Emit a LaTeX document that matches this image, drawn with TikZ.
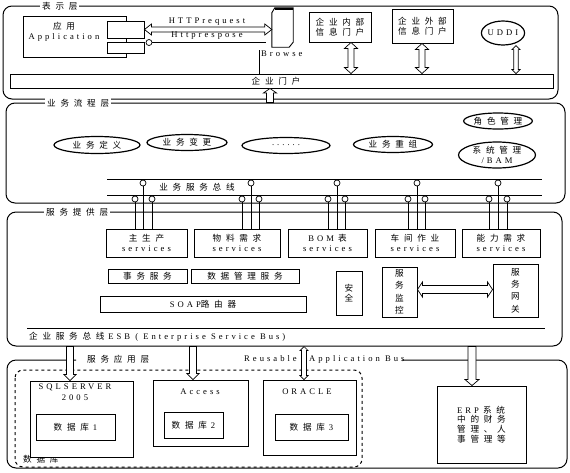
\documentclass[tikz,border=0pt]{standalone}
\usepackage{fontspec}
\setmainfont{Liberation Serif}
\newfontfamily\zh[LetterSpace=55]{Noto Sans CJK SC}
\newfontfamily\zhn{Noto Sans CJK SC}
\newfontfamily\en[LetterSpace=35]{Liberation Serif}
\usetikzlibrary{calc,shapes.geometric}
\tikzset{
 every node/.style={align=center, inner sep=1pt, font=\zh\fontsize{8.6}{10.5}\selectfont},
 box/.style={draw, line width=0.9pt, fill=white, inner sep=0pt},
 layer/.style={draw, line width=1pt, rounded corners=9pt, inner sep=0pt},
 lab/.style={fill=white, inner sep=2pt, anchor=west},
 ell/.style={draw, ellipse, line width=1.2pt, inner sep=0pt},
 lol/.style={draw, circle, minimum size=6pt, inner sep=0pt, fill=white, line width=0.7pt},
 harrow/.style={draw, fill=white, line width=0.7pt, line join=miter},
 vtext/.style={font=\zhn\fontsize{8.6}{12.4}\selectfont},
}
\newcommand\gapk{\kern4pt}
\newcommand\bx[6]{\node[box, minimum width={(#4-#2)*1pt}, minimum height={(#5-#3)*1pt}] (#1) at ({(#2+#4)/2},{(#3+#5)/2}) {#6};}
% vertical double arrow: #1 upper point, #2 lower point, #3 shaft half, #4 head half, #5 head length
\newcommand\vdouble[5]{\path[harrow] let \p1=(#1), \p2=(#2) in (\x1,\y1) -- (\x1+#4,\y1-#5) -- (\x1+#3,\y1-#5) -- (\x1+#3,\y2+#5) -- (\x1+#4,\y2+#5) -- (\x1,\y2) -- (\x1-#4,\y2+#5) -- (\x1-#3,\y2+#5) -- (\x1-#3,\y1-#5) -- (\x1-#4,\y1-#5) -- cycle;}
\newcommand\vdown[5]{\path[harrow] let \p1=(#1), \p2=(#2) in (\x1-#3,\y1) -- (\x1+#3,\y1) -- (\x1+#3,\y2+#5) -- (\x1+#4,\y2+#5) -- (\x1,\y2) -- (\x1-#4,\y2+#5) -- (\x1-#3,\y2+#5) -- cycle;}
\newcommand\vup[5]{\path[harrow] let \p1=(#1), \p2=(#2) in (\x1,\y1) -- (\x1+#4,\y1-#5) -- (\x1+#3,\y1-#5) -- (\x1+#3,\y2) -- (\x1-#3,\y2) -- (\x1-#3,\y1-#5) -- (\x1-#4,\y1-#5) -- cycle;}
% horizontal double arrow: #1 left point, #2 right point
\newcommand\hdouble[5]{\path[harrow] let \p1=(#1), \p2=(#2) in (\x1,\y1) -- (\x1+#5,\y1+#4) -- (\x1+#5,\y1+#3) -- (\x2-#5,\y1+#3) -- (\x2-#5,\y1+#4) -- (\x2,\y1) -- (\x2-#5,\y1-#4) -- (\x2-#5,\y1-#3) -- (\x1+#5,\y1-#3) -- (\x1+#5,\y1-#4) -- cycle;}
\begin{document}
\begin{tikzpicture}[x=1pt,y=-1pt]
\useasboundingbox (0,0) rectangle (570,472);
% ---------- layer 1
\node[layer, minimum width=555pt, minimum height=93pt] (L1) at (280.5,52.5) {};
\node[lab] (t1) at (40,6) {表示层};
\bx{app}{23}{16}{126}{57}{}
\node (apptext) at (64,32) {应用\\{\en Application}};
\bx{comp1}{107}{21}{144}{38}{}
\bx{comp2}{107}{42}{144}{53}{}
\node[lol] (lp) at (149,42.5) {};
\coordinate (lpend) at (266,42.5);
\draw[line width=0.8pt] (lp) -- (lpend);
\node[minimum width=21pt, minimum height=39pt, inner sep=0pt] (browse) at (282.5,27.5) {};
\draw[line width=0.9pt] ($(browse.north west)+(0,5)$) -- ($(browse.north west)+(3,0)$) -- (browse.north east) -- ($(browse.south east)+(0,-5)$) -- ($(browse.south east)+(-4,0)$) -- (browse.south west) -- cycle;
\draw[line width=2pt] ($(browse.north west)+(3,1)$) -- ($(browse.north east)+(0,1)$);
\bx{portal}{10}{74}{553}{88}{}
\node (portaltext) at (276,81) {企业门户};
\coordinate (bv) at (259,50);
\draw[line width=0.8pt] (bv) -- (bv |- portal.north);
\node[anchor=west] (browsetext) at (260,54) {\en Browse};
\hdouble{comp1.east}{browse.west |- comp1.east}{2.5pt}{5.5pt}{7pt}
\node (req) at (207,21.5) {\en HTTPrequest};
\node (resp) at (207,35.5) {\en Httprespose};
\bx{inner}{309}{12}{371}{42}{企业内部\\信息门户}
\bx{outer}{392}{9}{453}{43}{企业外部\\信息门户}
\node[ell, minimum width=40pt, minimum height=24pt] (uddi) at (503,33) {\en UDDI};
\coordinate (xa) at (351,0);
\coordinate (xb) at (422,0);
\coordinate (xc) at (516,0);
\vdouble{inner.south -| xa}{portal.north -| xa}{3pt}{6.5pt}{6pt}
\vdouble{outer.south -| xb}{portal.north -| xb}{3pt}{6.5pt}{6pt}
\vdouble{uddi.south -| xc}{portal.north -| xc}{2.2pt}{4pt}{4pt}
% ---------- layer 2
\node[layer, minimum width=559pt, minimum height=100pt] (L2) at (285.5,153) {};
\node[lab] (t2) at (45,103) {业务流程层};
\coordinate (xu) at (270,0);
\vup{portal.south -| xu}{L2.north -| xu}{3.5pt}{6.5pt}{4.5pt}
\node[ell, minimum width=86pt, minimum height=17pt] (e1) at (97,145) {业务定义};
\node[ell, minimum width=80pt, minimum height=16pt] (e2) at (187,142.5) {业务变更};
\node[ell, minimum width=88pt, minimum height=16pt] (e3) at (286,145.5) {\en ......};
\node[ell, minimum width=79pt, minimum height=16pt] (e4) at (393,144.5) {业务重组};
\node[ell, minimum width=66pt, minimum height=16pt] (e5) at (498,121) {角色管理};
\node[ell, minimum width=77pt, minimum height=26pt] (e6) at (497,155) {系统管理\\[-1pt]{\en /BAM}};
\coordinate (busA1) at (107,179);
\coordinate (busA2) at (542,179);
\coordinate (busB1) at (107,195);
\coordinate (busB2) at (542,195);
\draw[line width=0.8pt] (busA1) -- (busA2);
\draw[line width=0.8pt] (busB1) -- (busB2);
\node (bustext) at (197,187) {业务服务总线};
% ---------- layer 3
\node[layer, minimum width=555pt, minimum height=134pt] (L3) at (284.5,279) {};
\node[lab] (t3) at (44,212) {服务提供层};
\bx{s1}{106}{229}{187}{257}{主生产\\{\en services}}
\bx{s2}{194}{229}{280}{257}{物料需求\\{\en services}}
\bx{s3}{288}{229}{367}{257}{{\en BOM}\gapk 表\\{\en services}}
\bx{s4}{375}{229}{455}{257}{车间作业\\{\en services}}
\bx{s5}{462}{229}{540}{257}{能力需求\\{\en services}}
\foreach \b/\xl/\xm/\xr in {s1/135/143/152, s2/242/251/259, s3/328/337/345, s4/408/417/425, s5/489/498/507}{
  \node[lol] (\b l) at (\xl,199) {};
  \node[lol] (\b m) at (\xm,183) {};
  \node[lol] (\b r) at (\xr,199) {};
  \draw[line width=0.8pt] (\b l) -- (\b l |- \b.north);
  \draw[line width=0.8pt] (\b m) -- (\b m |- \b.north);
  \draw[line width=0.8pt] (\b r) -- (\b r |- \b.north);
}
\bx{r1}{108}{269}{187}{283}{事务服务}
\bx{r2}{191}{269}{299}{283}{数据管理服务}
\bx{soap}{100}{296}{306}{312}{{\en SOAP}路由器}
\bx{sec}{336}{271}{362}{315}{\zhn 安\\\zhn 全}
\node[box, minimum width=35pt, minimum height=50pt, vtext] (mon) at (399.5,292) {服\\务\\监\\控};
\node[box, minimum width=45pt, minimum height=53pt, vtext] (gw) at (515.5,290.5) {服\\务\\网\\关};
\coordinate (hy) at (0,289.5);
\hdouble{mon.east |- hy}{gw.west |- hy}{4pt}{7.5pt}{5pt}
\coordinate (esbL) at (27,328);
\coordinate (esbR) at (545,328);
\draw[line width=0.8pt] (esbL) -- (esbR);
\node[anchor=west] (esb) at (28,337) {企业服务总线\gapk{\en ESB ( Enterprise Service Bus)}};
% ---------- layer 4
\draw[line width=1pt, rounded corners=9pt] (76,360) -- (7,360) -- (7,468) -- (567,468) -- (567,360) -- (402,360);
\node[anchor=west] (t4) at (86,359) {服务应用层};
\node[anchor=west] (t5) at (243,359) {\en Reusable};
\node[anchor=west] (t6) at (308,359) {\en Application Bus};
\draw[line width=1pt, dashed, dash pattern=on 3pt off 3pt, rounded corners=8pt] (15,370) rectangle (362,467);
\node[lab, inner sep=1pt] (dbl) at (22,459) {数据库};
\bx{db1}{30}{381}{133}{457}{}
\node (db1t) at (75,392) {\en SQLSERVER\\\en 2005};
\bx{db1i}{36}{414}{115}{440}{数据库\gapk{\en 1}}
\bx{db2}{153}{380}{248}{446}{}
\node (db2t) at (200,392) {\en Access};
\bx{db2i}{164}{412}{223}{438}{数据库\gapk{\en 2}}
\bx{db3}{263}{380}{356}{455}{}
\node (db3t) at (307,392) {\en ORACLE};
\bx{db3i}{275}{414}{348}{440}{数据库\gapk{\en 3}}
\node[box, minimum width=89pt, minimum height=77pt, font=\zh\fontsize{8.6}{9.6}\selectfont, align=left] (erp) at (481.5,424.5) {{\en ERP}\gapk 系统\\中的财务\\管理、人\\事管理等};
\coordinate (x1) at (70,0);
\coordinate (x2) at (193,0);
\coordinate (x3) at (304,0);
\coordinate (x4) at (472,0);
\vdown{L3.south -| x1}{db1.north -| x1}{3.5pt}{6pt}{6pt}
\vdown{L3.south -| x2}{db2.north -| x2}{3.5pt}{6pt}{6pt}
\vdouble{L3.south -| x3}{db3.north -| x3}{2.5pt}{4pt}{4pt}
\vdown{L3.south -| x4}{erp.north -| x4}{4pt}{7pt}{6pt}
\end{tikzpicture}
\end{document}
